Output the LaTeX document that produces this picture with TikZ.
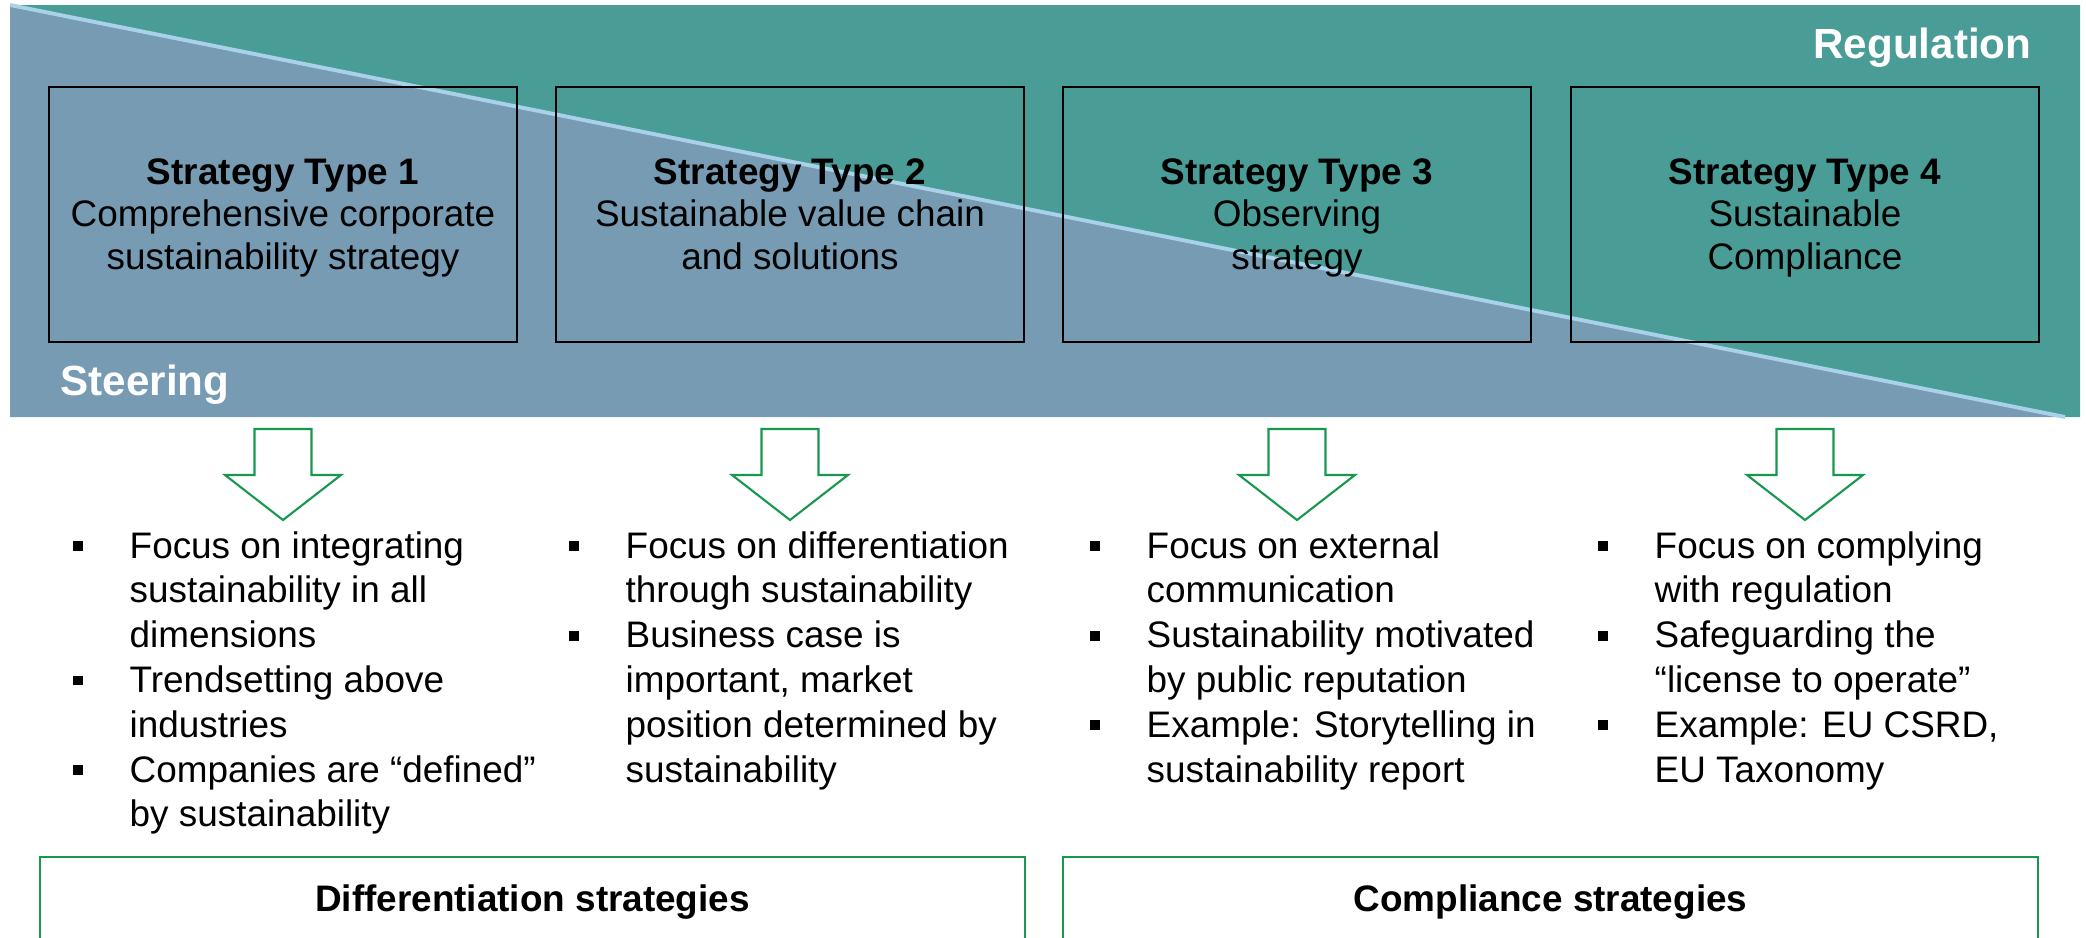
\documentclass[tikz,border=0pt]{standalone}
\usepackage{fontspec}
\setmainfont{Liberation Sans}
\definecolor{regteal}{HTML}{4A9D96}
\definecolor{steerblue}{HTML}{769BB3}
\definecolor{diagline}{HTML}{A9D2EA}
\definecolor{bgreen}{HTML}{18984F}
\newcommand{\bul}{\rule[2pt]{2.8pt}{2.8pt}}

\begin{document}
\begin{tikzpicture}[line join=miter,x=1.0cm,y=1.0cm,
  stratbox/.style={draw=black,line width=0.75pt},
  strattext/.style={anchor=base,inner sep=0pt,font=\fontsize{10.5}{12.2}\selectfont},
  bigword/.style={inner sep=0pt,text=white,font=\fontsize{12}{14}\selectfont\bfseries},
  downarrow/.style={draw=bgreen,fill=white,line width=0.6pt},
  bullettext/.style={anchor=base west,inner sep=0pt,font=\fontsize{10.5}{12.75}\selectfont},
  groupbox/.style={draw=bgreen,line width=0.6pt},
  grouptext/.style={anchor=base,inner sep=0pt,font=\fontsize{10.5}{12.2}\selectfont\bfseries}]
\clip (0,0) rectangle (20.86,9.37);
\fill [color=regteal] (0.10,9.32) -- (20.80,9.32) -- (20.80,5.20) -- (20.65,5.20) -- cycle;
\fill [color=steerblue] (0.10,9.32) -- (20.65,5.20) -- (0.10,5.20) -- cycle;
\draw [line width=1.1pt,color=diagline] (0.10,9.32) -- (20.65,5.20);
\node[bigword,anchor=base east] (regulation) at (20.32,8.79) {Regulation};
\node[bigword,anchor=base west] (steering) at (0.60,5.42) {Steering};
\draw [stratbox] (0.49,5.95) rectangle (5.17,8.50);
\draw [stratbox] (5.56,5.95) rectangle (10.24,8.50);
\draw [stratbox] (10.63,5.95) rectangle (15.31,8.50);
\draw [stratbox] (15.71,5.95) rectangle (20.39,8.50);
\node[strattext] (type1) at (2.83,7.53) {\begin{tabular}[t]{@{}c@{}}\textbf{Strategy Type 1}\\Comprehensive corporate\\sustainability strategy\end{tabular}};
\node[strattext] (type2) at (7.90,7.53) {\begin{tabular}[t]{@{}c@{}}\textbf{Strategy Type 2}\\Sustainable value chain\\and solutions\end{tabular}};
\node[strattext] (type3) at (12.97,7.53) {\begin{tabular}[t]{@{}c@{}}\textbf{Strategy Type 3}\\Observing\\strategy\end{tabular}};
\node[strattext] (type4) at (18.05,7.53) {\begin{tabular}[t]{@{}c@{}}\textbf{Strategy Type 4}\\Sustainable\\Compliance\end{tabular}};
\draw [downarrow] (2.545,5.08) -- (3.115,5.08) -- (3.115,4.62) -- (3.41,4.62) -- (2.83,4.17) -- (2.25,4.62) -- (2.545,4.62) -- cycle;
\draw [downarrow] (7.615,5.08) -- (8.185,5.08) -- (8.185,4.62) -- (8.48,4.62) -- (7.90,4.17) -- (7.32,4.62) -- (7.615,4.62) -- cycle;
\draw [downarrow] (12.685,5.08) -- (13.255,5.08) -- (13.255,4.62) -- (13.55,4.62) -- (12.97,4.17) -- (12.39,4.62) -- (12.685,4.62) -- cycle;
\draw [downarrow] (17.765,5.08) -- (18.335,5.08) -- (18.335,4.62) -- (18.63,4.62) -- (18.05,4.17) -- (17.47,4.62) -- (17.765,4.62) -- cycle;
\node[bullettext] (list1) at (0.72,3.79) {\begin{tabular}[t]{@{}p{0.57cm}@{}l@{}}
\bul & Focus on integrating\\ & sustainability in all\\ & dimensions\\
\bul & Trendsetting above\\ & industries\\
\bul & Companies are “defined”\\ & by sustainability\end{tabular}};
\node[bullettext] (list2) at (5.68,3.79) {\begin{tabular}[t]{@{}p{0.57cm}@{}l@{}}
\bul & Focus on differentiation\\ & through sustainability\\
\bul & Business case is\\ & important, market\\ & position determined by\\ & sustainability\end{tabular}};
\node[bullettext] (list3) at (10.89,3.79) {\begin{tabular}[t]{@{}p{0.57cm}@{}l@{}}
\bul & Focus on external\\ & communication\\
\bul & Sustainability motivated\\ & by public reputation\\
\bul & Example: Storytelling in\\ & sustainability report\end{tabular}};
\node[bullettext] (list4) at (15.97,3.79) {\begin{tabular}[t]{@{}p{0.57cm}@{}l@{}}
\bul & Focus on complying\\ & with regulation\\
\bul & Safeguarding the\\ & “license to operate”\\
\bul & Example: EU CSRD,\\ & EU Taxonomy\end{tabular}};
\draw [groupbox] (0.40,-0.30) rectangle (10.25,0.80);
\draw [groupbox] (10.63,-0.30) rectangle (20.38,0.80);
\node[grouptext] (diff) at (5.325,0.26) {Differentiation strategies};
\node[grouptext] (comp) at (15.505,0.26) {Compliance strategies};
\end{tikzpicture}
\end{document}
